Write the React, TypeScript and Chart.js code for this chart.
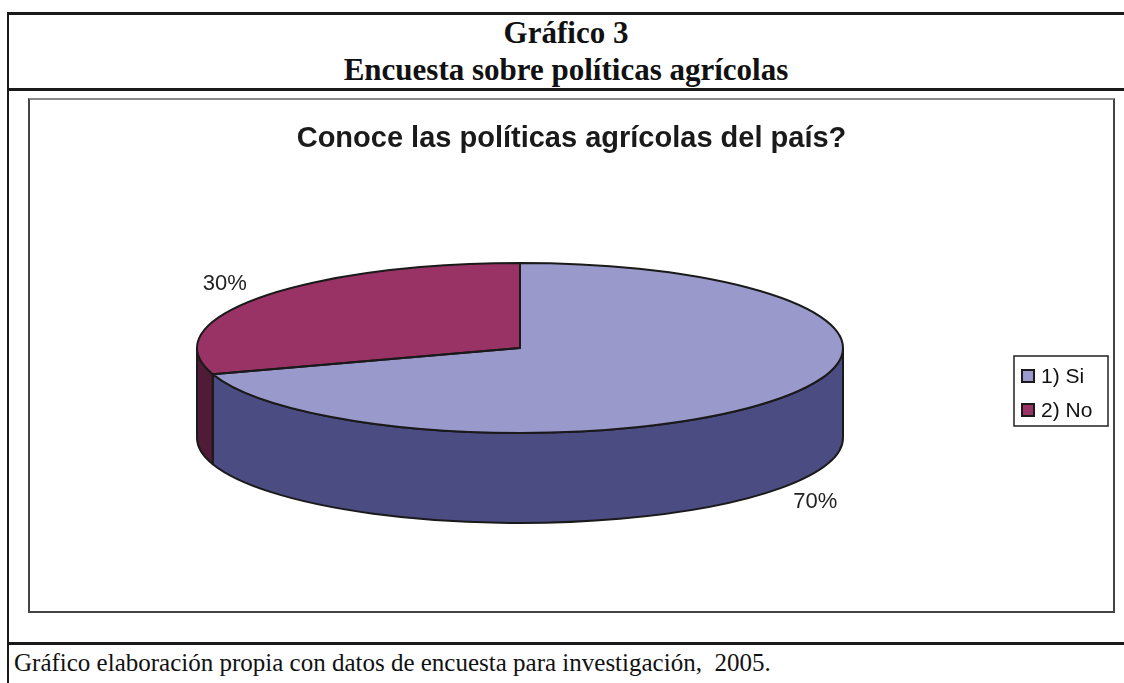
import React, { useEffect, useRef } from 'react';
import { Chart, registerables, layouts } from 'chart.js';

Chart.register(...registerables);

// ---- data ----
const HEADER_LINE_1 = 'Gráfico 3';
const HEADER_LINE_2 = 'Encuesta sobre políticas agrícolas';
const CHART_TITLE = 'Conoce las políticas agrícolas del país?';
const FOOTER_TEXT = 'Gráfico elaboración propia con datos de encuesta para investigación,  2005.';
const categories = ['1) Si', '2) No'];
const values = [70, 30];
const topColors = ['#9999CC', '#993366'];
const sideColors = ['#4B4C82', '#4F1B36'];

// ---- style ----
const SANS = "'Liberation Sans', Arial, Helvetica, sans-serif";
const SERIF = "'Liberation Serif', 'Times New Roman', Times, serif";
const OUTLINE = '#1a1a1a';
const RX = 323;
const RY = 85;
const DEPTH = 90;
const LEGEND_W = 103;
const CANVAS_W = 1083;
const CANVAS_H = 511;

const pie3d = {
  id: 'pie3d',
  beforeDatasetsDraw(chart: any) {
    const arcs = chart.getDatasetMeta(0).data;
    chart.$pieSaved = false;
    if (!arcs.length) return;
    const { x: cx, y: cy, outerRadius: r } = arcs[0].getProps(['x', 'y', 'outerRadius'], true);
    const ctx = chart.ctx;
    ctx.save();
    ctx.lineWidth = 2;
    ctx.strokeStyle = OUTLINE;
    ctx.lineJoin = 'round';
    arcs.forEach((arc: any, i: number) => {
      const { startAngle, endAngle } = arc.getProps(['startAngle', 'endAngle'], true);
      for (const k of [-2 * Math.PI, 0, 2 * Math.PI]) {
        const a1 = Math.max(startAngle + k, 0);
        const a2 = Math.min(endAngle + k, Math.PI);
        if (a2 - a1 <= 1e-6) continue;
        ctx.beginPath();
        ctx.ellipse(cx, cy, RX, RY, 0, a1, a2);
        ctx.lineTo(cx + RX * Math.cos(a2), cy + RY * Math.sin(a2) + DEPTH);
        ctx.ellipse(cx, cy + DEPTH, RX, RY, 0, a2, a1, true);
        ctx.closePath();
        ctx.fillStyle = sideColors[i % sideColors.length];
        ctx.fill();
        ctx.stroke();
      }
    });
    ctx.restore();
    ctx.save();
    ctx.translate(cx, cy);
    ctx.scale(RX / r, RY / r);
    ctx.translate(-cx, -cy);
    chart.$pieSaved = true;
  },
  afterDatasetsDraw(chart: any) {
    if (!chart.$pieSaved) return;
    const ctx = chart.ctx;
    ctx.restore();
    chart.$pieSaved = false;
    const arcs = chart.getDatasetMeta(0).data;
    const data = chart.data.datasets[0].data as number[];
    const total = data.reduce((a, b) => a + b, 0);
    ctx.save();
    ctx.lineWidth = 2;
    ctx.strokeStyle = OUTLINE;
    ctx.lineJoin = 'round';
    arcs.forEach((arc: any) => {
      const { x: cx, y: cy, startAngle, endAngle } = arc.getProps(['x', 'y', 'startAngle', 'endAngle'], true);
      ctx.beginPath();
      ctx.moveTo(cx, cy);
      ctx.ellipse(cx, cy, RX, RY, 0, startAngle, endAngle);
      ctx.closePath();
      ctx.stroke();
    });
    ctx.fillStyle = '#222';
    ctx.font = `22px ${SANS}`;
    ctx.textAlign = 'center';
    ctx.textBaseline = 'middle';
    arcs.forEach((arc: any, i: number) => {
      const { x: cx, y: cy, startAngle, endAngle } = arc.getProps(['x', 'y', 'startAngle', 'endAngle'], true);
      const mid = (startAngle + endAngle) / 2;
      const c = Math.cos(mid);
      const s = Math.sin(mid);
      const lx = cx + RX * 1.13 * c;
      const ly = cy + RY * 1.28 * s + (s > 0 ? DEPTH : 0);
      ctx.fillText(`${Math.round((data[i] / total) * 100)}%`, lx, ly);
    });
    ctx.restore();
  },
};

const makeLegendBox = (chart: any) => {
  const box: any = {
    position: 'right',
    weight: 0,
    fullSize: false,
    options: {},
    left: 0,
    top: 0,
    right: 0,
    bottom: 0,
    width: LEGEND_W,
    height: 0,
    isHorizontal() {
      return false;
    },
    update(_maxWidth: number, maxHeight: number) {
      this.width = LEGEND_W;
      this.height = maxHeight;
    },
    draw() {
      const ctx = chart.ctx;
      const bx = this.left + 4;
      const by = 256;
      const bw = 94;
      const bh = 70;
      ctx.save();
      ctx.fillStyle = '#fff';
      ctx.fillRect(bx, by, bw, bh);
      ctx.lineWidth = 1.5;
      ctx.strokeStyle = '#222';
      ctx.strokeRect(bx, by, bw, bh);
      ctx.font = `21px ${SANS}`;
      ctx.textBaseline = 'middle';
      ctx.textAlign = 'left';
      const labels = chart.data.labels as string[];
      const colors = chart.data.datasets[0].backgroundColor as string[];
      labels.forEach((lab, i) => {
        const cyI = by + 20 + i * 34;
        ctx.fillStyle = colors[i];
        ctx.fillRect(bx + 8, cyI - 6, 12, 12);
        ctx.lineWidth = 2;
        ctx.strokeStyle = OUTLINE;
        ctx.strokeRect(bx + 8, cyI - 6, 12, 12);
        ctx.fillStyle = '#111';
        ctx.fillText(lab, bx + 27, cyI + 1);
      });
      ctx.restore();
    },
  };
  return box;
};

const legendBoxPlugin = {
  id: 'legendBox',
  beforeInit(chart: any) {
    layouts.addBox(chart, makeLegendBox(chart));
  },
};

export default function App() {
  const canvasRef = useRef<HTMLCanvasElement | null>(null);

  useEffect(() => {
    if (!canvasRef.current) return;
    const chart = new Chart(canvasRef.current, {
      type: 'pie',
      data: {
        labels: categories,
        datasets: [
          {
            data: values,
            backgroundColor: topColors,
            borderWidth: 0,
            hoverOffset: 0,
          },
        ],
      },
      options: {
        responsive: false,
        animation: false,
        events: [],
        layout: { padding: { top: 0, left: 0, right: 0, bottom: 82 } },
        plugins: {
          legend: { display: false },
          tooltip: { enabled: false },
          title: {
            display: true,
            text: CHART_TITLE,
            color: '#1a1a1a',
            font: { size: 29, weight: 'bold', family: SANS },
            padding: { top: 22, bottom: 10 },
          },
        },
      },
      plugins: [legendBoxPlugin, pie3d],
    } as any);
    return () => chart.destroy();
  }, []);

  const line = (top: number, height: number) => (
    <div style={{ position: 'absolute', left: 7, top, width: 1200, height, background: '#1a1a1a' }} />
  );

  return (
    <div style={{ position: 'absolute', left: 0, top: 0, width: 1124, height: 683, overflow: 'hidden', background: '#fff' }}>
      {line(12, 2.5)}
      {line(88, 2.5)}
      {line(642, 2.5)}
      <div style={{ position: 'absolute', left: 7, top: 12, width: 2, height: 700, background: '#1a1a1a' }} />
      <div
        style={{
          position: 'absolute', left: 8, width: 1116, top: 15, lineHeight: '36px', textAlign: 'center',
          fontFamily: SERIF, fontWeight: 'bold', fontSize: 31, color: '#111', whiteSpace: 'pre',
        }}
      >
        {HEADER_LINE_1}
      </div>
      <div
        style={{
          position: 'absolute', left: 8, width: 1116, top: 52, lineHeight: '36px', textAlign: 'center',
          fontFamily: SERIF, fontWeight: 'bold', fontSize: 31, color: '#111', whiteSpace: 'pre',
        }}
      >
        {HEADER_LINE_2}
      </div>
      <div
        style={{
          position: 'absolute', left: 28, top: 98, width: 1087, height: 515, boxSizing: 'border-box',
          borderStyle: 'solid', borderWidth: 2, borderColor: '#8a8a8a #444 #444 #444',
        }}
      />
      <canvas
        ref={canvasRef}
        width={CANVAS_W}
        height={CANVAS_H}
        style={{ position: 'absolute', left: 30, top: 100, width: CANVAS_W, height: CANVAS_H }}
      />
      <div
        style={{
          position: 'absolute', left: 14, top: 647, lineHeight: '32px', fontFamily: SERIF, fontSize: 25,
          color: '#111', whiteSpace: 'pre',
        }}
      >
        {FOOTER_TEXT}
      </div>
    </div>
  );
}
